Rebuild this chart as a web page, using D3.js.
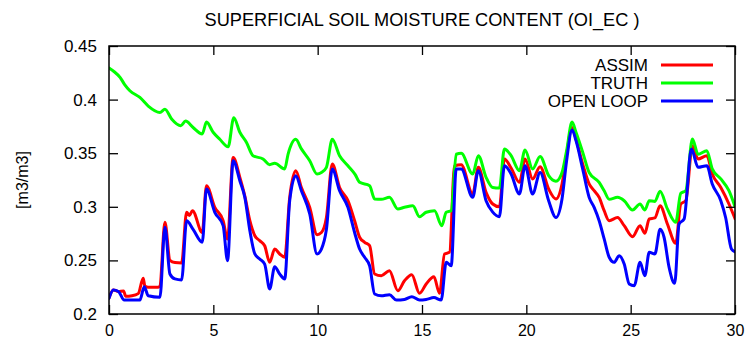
<!DOCTYPE html>
<html>
<head>
<meta charset="utf-8">
<script src="https://cdn.jsdelivr.net/npm/d3@7"></script>
<style>
  html, body { margin: 0; padding: 0; background: #fff; }
  svg { display: block; font-family: "Liberation Sans", Arial, sans-serif; }
</style>
</head>
<body>
<svg id="chart" width="748" height="340"></svg>
<script>
// Superficial soil moisture (m3/m3) over 30 days, three runs.
const chartTitle = "SUPERFICIAL SOIL MOISTURE CONTENT (OI_EC )";
const yLabel = "[m3/m3]";
const xTicks = [0, 5, 10, 15, 20, 25, 30];
const yTicks = [0.2, 0.25, 0.3, 0.35, 0.4, 0.45];
const yTickLabels = ["0.2", "0.25", "0.3", "0.35", "0.4", "0.45"];
const seriesNames = ["ASSIM", "TRUTH", "OPEN LOOP"];

const assimDays = [0, 0.21, 0.45, 0.7, 0.8, 1.1, 1.4, 1.64, 1.72, 1.88, 2.36, 2.44, 2.68, 2.92, 3.16, 3.48, 3.72, 3.85, 4.0, 4.47, 4.67, 5.07, 5.47, 5.68, 5.95, 6.27, 6.51, 6.75, 6.99, 7.22, 7.46, 7.7, 7.94, 8.18, 8.42, 8.66, 8.95, 9.22, 9.62, 9.97, 10.18, 10.42, 10.7, 11.05, 11.45, 11.77, 12.01, 12.25, 12.49, 12.73, 13.05, 13.44, 13.84, 14.16, 14.51, 14.88, 15.2, 15.57, 15.84, 16.08, 16.32, 16.56, 16.88, 17.43, 17.7, 18.07, 18.39, 18.71, 18.95, 19.27, 19.67, 19.94, 20.3, 20.66, 21.07, 21.42, 21.71, 21.93, 22.19, 22.38, 22.7, 23.01, 23.25, 23.49, 23.73, 23.97, 24.37, 24.69, 25.09, 25.45, 25.68, 25.89, 26.16, 26.41, 26.76, 27.16, 27.4, 27.64, 27.96, 28.23, 28.65, 28.91, 29.32, 29.71, 30];
const assimVals = [0.215, 0.2224, 0.221, 0.2215, 0.2165, 0.217, 0.219, 0.2333, 0.226, 0.225, 0.225, 0.226, 0.2855, 0.25, 0.248, 0.2476, 0.295, 0.292, 0.2964, 0.276, 0.3197, 0.2995, 0.287, 0.27, 0.346, 0.3275, 0.31, 0.287, 0.273, 0.2684, 0.2637, 0.2482, 0.2606, 0.256, 0.2529, 0.3088, 0.3337, 0.318, 0.2995, 0.274, 0.276, 0.29, 0.34, 0.318, 0.3057, 0.287, 0.2716, 0.2669, 0.2637, 0.2373, 0.2357, 0.2404, 0.2217, 0.231, 0.2367, 0.2193, 0.228, 0.2348, 0.2193, 0.256, 0.2575, 0.3383, 0.3393, 0.312, 0.3368, 0.3135, 0.3026, 0.3, 0.3446, 0.3362, 0.3228, 0.3446, 0.326, 0.3374, 0.3166, 0.3073, 0.3213, 0.349, 0.374, 0.3632, 0.34, 0.3213, 0.315, 0.3088, 0.2964, 0.287, 0.29, 0.2824, 0.2721, 0.2824, 0.2753, 0.2886, 0.2896, 0.301, 0.284, 0.266, 0.3026, 0.3057, 0.357, 0.3446, 0.3477, 0.3306, 0.318, 0.3026, 0.289];

const truthDays = [0, 0.25, 0.53, 0.75, 1.0, 1.48, 1.88, 2.44, 2.68, 3.0, 3.44, 3.67, 4.03, 4.47, 4.67, 4.99, 5.31, 5.71, 5.98, 6.27, 6.59, 6.9, 7.38, 7.7, 7.94, 8.42, 8.58, 8.95, 9.22, 9.62, 9.97, 10.18, 10.42, 10.7, 11.05, 11.45, 11.8, 12.01, 12.49, 12.73, 13.05, 13.44, 13.84, 14.16, 14.56, 14.88, 15.2, 15.6, 15.95, 16.16, 16.4, 16.64, 16.88, 17.43, 17.7, 18.07, 18.39, 18.71, 18.95, 19.27, 19.67, 19.94, 20.3, 20.66, 21.07, 21.42, 21.71, 21.93, 22.19, 22.38, 22.7, 23.01, 23.49, 23.73, 23.97, 24.37, 24.69, 25.09, 25.45, 25.68, 25.89, 26.16, 26.41, 26.76, 27.16, 27.4, 27.64, 27.96, 28.23, 28.65, 28.91, 29.32, 29.71, 30];
const truthVals = [0.4295, 0.426, 0.4208, 0.414, 0.4083, 0.402, 0.394, 0.388, 0.391, 0.382, 0.3757, 0.38, 0.374, 0.368, 0.379, 0.3695, 0.363, 0.356, 0.383, 0.3695, 0.36, 0.3477, 0.3446, 0.3393, 0.3406, 0.3353, 0.349, 0.363, 0.354, 0.343, 0.3306, 0.332, 0.3368, 0.363, 0.3477, 0.3383, 0.33, 0.3228, 0.3197, 0.3073, 0.307, 0.3088, 0.298, 0.2995, 0.301, 0.2908, 0.2949, 0.2964, 0.2824, 0.2949, 0.2964, 0.349, 0.3499, 0.3306, 0.3477, 0.3275, 0.318, 0.3175, 0.354, 0.3477, 0.3337, 0.353, 0.3353, 0.347, 0.329, 0.3238, 0.332, 0.3523, 0.379, 0.3695, 0.351, 0.332, 0.3228, 0.315, 0.307, 0.3088, 0.3057, 0.297, 0.3026, 0.297, 0.3057, 0.305, 0.3145, 0.298, 0.2855, 0.3126, 0.315, 0.3632, 0.349, 0.3523, 0.3353, 0.326, 0.315, 0.3];

const openDays = [0, 0.21, 0.45, 0.73, 1.09, 1.48, 1.69, 1.88, 2.44, 2.68, 2.92, 3.16, 3.48, 3.72, 4.03, 4.47, 4.67, 5.07, 5.47, 5.68, 5.95, 6.27, 6.51, 6.75, 6.99, 7.22, 7.46, 7.7, 7.94, 8.18, 8.42, 8.66, 8.95, 9.22, 9.62, 9.97, 10.18, 10.42, 10.7, 11.05, 11.45, 11.77, 12.01, 12.25, 12.49, 12.73, 13.05, 13.44, 13.78, 14.16, 14.51, 14.88, 15.2, 15.57, 15.92, 16.16, 16.4, 16.64, 16.88, 17.43, 17.7, 18.07, 18.39, 18.71, 18.95, 19.27, 19.67, 19.94, 20.3, 20.66, 21.07, 21.42, 21.71, 21.93, 22.19, 22.38, 22.7, 23.01, 23.25, 23.49, 23.73, 23.97, 24.21, 24.45, 24.69, 24.93, 25.17, 25.45, 25.68, 25.89, 26.16, 26.41, 26.6, 26.84, 27.11, 27.32, 27.56, 27.91, 28.23, 28.65, 28.91, 29.32, 29.55, 29.83, 30];
const openVals = [0.2146, 0.2224, 0.221, 0.213, 0.213, 0.213, 0.2255, 0.217, 0.2156, 0.281, 0.2373, 0.2327, 0.2317, 0.287, 0.279, 0.2669, 0.3166, 0.2949, 0.2824, 0.2497, 0.343, 0.3243, 0.3088, 0.2777, 0.256, 0.2513, 0.2466, 0.2233, 0.2441, 0.2373, 0.2327, 0.3057, 0.329, 0.315, 0.2933, 0.256, 0.2606, 0.279, 0.3353, 0.315, 0.2995, 0.276, 0.2606, 0.2529, 0.245, 0.2187, 0.217, 0.218, 0.213, 0.2136, 0.2162, 0.213, 0.2136, 0.2153, 0.213, 0.2482, 0.245, 0.3353, 0.3353, 0.3088, 0.3337, 0.3057, 0.295, 0.2908, 0.3383, 0.3306, 0.312, 0.3383, 0.312, 0.332, 0.3057, 0.29, 0.3073, 0.343, 0.3716, 0.3617, 0.3353, 0.3088, 0.2995, 0.287, 0.27, 0.2529, 0.2482, 0.2544, 0.2466, 0.228, 0.2264, 0.2482, 0.2357, 0.2575, 0.256, 0.279, 0.2716, 0.2436, 0.2286, 0.284, 0.2886, 0.354, 0.3368, 0.3383, 0.3213, 0.3057, 0.29, 0.2606, 0.258];

const colors = ["#ff0000", "#00ff00", "#0000ff"];

const svg = d3.select("#chart");
const margin = { left: 109, right: 13, top: 46, bottom: 26 };
const W = 748, H = 340;
const x = d3.scaleLinear().domain([0, 30]).range([margin.left, W - margin.right]);
const y = d3.scaleLinear().domain([0.2, 0.45]).range([H - margin.bottom, margin.top]);

svg.append("defs").append("clipPath").attr("id", "plotClip")
  .append("rect")
  .attr("x", x(0)).attr("y", y(0.45))
  .attr("width", x(30) - x(0)).attr("height", y(0.2) - y(0.45));

const series = [
  { name: seriesNames[0], days: assimDays, vals: assimVals, color: colors[0] },
  { name: seriesNames[1], days: truthDays, vals: truthVals, color: colors[1] },
  { name: seriesNames[2], days: openDays, vals: openVals, color: colors[2] }
];

const line = d3.line()
  .x(d => x(d[0]))
  .y(d => y(d[1]))
  .curve(d3.curveMonotoneX);

const lines = svg.append("g").attr("clip-path", "url(#plotClip)");
series.forEach(s => {
  lines.append("path")
    .datum(s.days.map((t, i) => [t, s.vals[i]]))
    .attr("d", line)
    .attr("fill", "none")
    .attr("stroke", s.color)
    .attr("stroke-width", 3)
    .attr("stroke-linejoin", "round")
    .attr("stroke-linecap", "round");
});

// Axes: ticks point inward and are mirrored on top and right
const tickLen = 9;
const fmtY = (d, i) => yTickLabels[i];
const axisStyle = size => g => {
  g.select(".domain").remove();
  g.selectAll(".tick line").attr("stroke", "#000").attr("stroke-width", 1.3);
  g.selectAll("text").attr("fill", "#000").attr("font-size", size)
    .attr("font-family", "'Liberation Sans', Arial, sans-serif");
};

svg.append("g").attr("transform", `translate(0,${y(0.2)})`)
  .call(d3.axisBottom(x).tickValues(xTicks).tickSizeInner(-tickLen).tickSizeOuter(0).tickPadding(11))
  .call(axisStyle(16));
svg.append("g").attr("transform", `translate(0,${y(0.45)})`)
  .call(d3.axisTop(x).tickValues(xTicks).tickSizeInner(-tickLen).tickSizeOuter(0).tickFormat(""))
  .call(axisStyle(16));
svg.append("g").attr("transform", `translate(${x(0)},0)`)
  .call(d3.axisLeft(y).tickValues(yTicks).tickFormat(fmtY).tickSizeInner(-tickLen).tickSizeOuter(0).tickPadding(12))
  .call(axisStyle(17));
svg.append("g").attr("transform", `translate(${x(30)},0)`)
  .call(d3.axisRight(y).tickValues(yTicks).tickSizeInner(-tickLen).tickSizeOuter(0).tickFormat(""))
  .call(axisStyle(16));

// Frame
svg.append("rect")
  .attr("x", x(0)).attr("y", y(0.45))
  .attr("width", x(30) - x(0)).attr("height", y(0.2) - y(0.45))
  .attr("fill", "none").attr("stroke", "#000").attr("stroke-width", 1.5);

// Title
svg.append("text")
  .attr("x", (x(0) + x(30)) / 2).attr("y", 26)
  .attr("text-anchor", "middle")
  .attr("font-size", 18.2)
  .text(chartTitle);

// Y label
svg.append("text")
  .attr("transform", `translate(28,${(y(0.2) + y(0.45)) / 2}) rotate(-90)`)
  .attr("text-anchor", "middle")
  .attr("font-size", 16)
  .text(yLabel);

// Legend
const legend = svg.append("g");
series.forEach((s, i) => {
  const ly = 65 + i * 18;
  legend.append("text")
    .attr("x", 648).attr("y", ly + 6)
    .attr("text-anchor", "end")
    .attr("font-size", 17)
    .attr("textLength", null)
    .text(s.name);
  legend.append("line")
    .attr("x1", 661).attr("x2", 713)
    .attr("y1", ly).attr("y2", ly)
    .attr("stroke", s.color).attr("stroke-width", 3);
});
</script>
</body>
</html>
